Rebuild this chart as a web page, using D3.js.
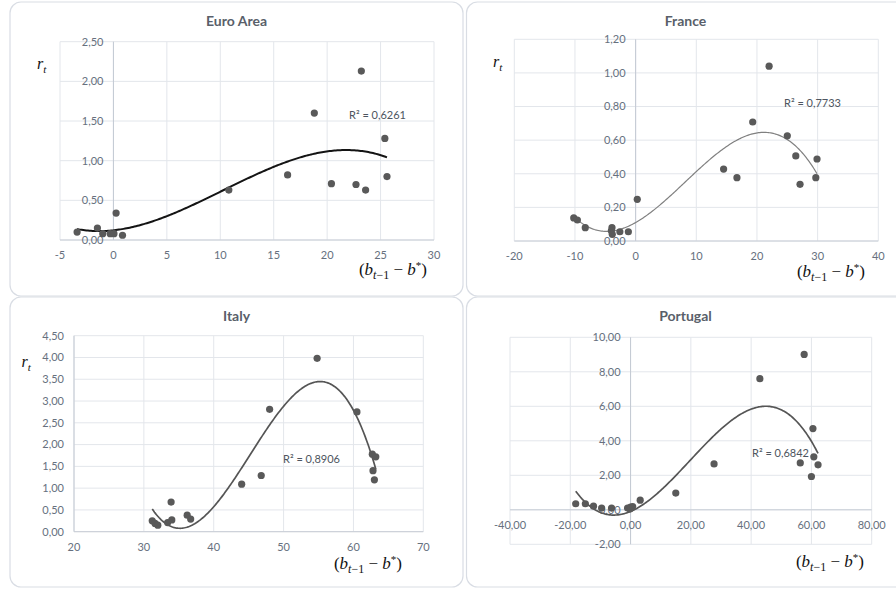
<!DOCTYPE html>
<html>
<head>
<meta charset="utf-8">
<script src="https://cdn.jsdelivr.net/npm/d3@7"></script>
<style>
  body { margin: 0; background: #fff; }
  svg { display: block; }
  .tick-label { font-family: Lato, "Open Sans", sans-serif; font-size: 11px; fill: #66707e; }
  .title { font-family: Lato, "Open Sans", sans-serif; font-size: 14px; font-weight: bold; fill: #595f6a; }
  .r2 { font-family: Lato, "Open Sans", sans-serif; font-size: 11px; fill: #4d5560; }
  .math { font-family: "Liberation Serif", "DejaVu Serif", serif; fill: #111; }
</style>
</head>
<body>
<div class="board"></div>
<script>
(function() {

  // Euro Area
  var euroX = [-3.4, -1.5, -1.0, -0.3, 0.05, 0.85, 0.25, 10.8, 16.3, 18.8, 20.4, 22.7, 23.2, 23.6, 25.4, 25.6];
  var euroY = [0.10, 0.15, 0.08, 0.08, 0.08, 0.06, 0.34, 0.63, 0.82, 1.60, 0.71, 0.70, 2.13, 0.63, 1.28, 0.80];
  var euroXTicks = [-5, 0, 5, 10, 15, 20, 25, 30];
  var euroYTicks = [0, 0.5, 1, 1.5, 2, 2.5];

  // France
  var franceX = [-10.2, -9.6, -8.3, -3.9, -4.0, -3.85, -2.6, -1.2, 0.27, 14.5, 16.7, 19.3, 22.0, 25.0, 26.4, 27.1, 29.7, 29.9];
  var franceY = [0.137, 0.125, 0.079, 0.079, 0.061, 0.04, 0.055, 0.055, 0.248, 0.428, 0.377, 0.708, 1.04, 0.626, 0.506, 0.337, 0.377, 0.488];
  var franceXTicks = [-20, -10, 0, 10, 20, 30, 40];
  var franceYTicks = [0, 0.2, 0.4, 0.6, 0.8, 1.0, 1.2];

  // Italy
  var italyX = [31.2, 31.6, 32.0, 33.4, 33.9, 34.0, 36.2, 36.7, 44.0, 46.8, 48.0, 54.8, 60.5, 62.7, 62.8, 63.0, 63.2];
  var italyY = [0.25, 0.19, 0.15, 0.21, 0.68, 0.27, 0.38, 0.29, 1.09, 1.29, 2.81, 3.98, 2.75, 1.78, 1.40, 1.19, 1.72];
  var italyXTicks = [20, 30, 40, 50, 60, 70];
  var italyYTicks = [0, 0.5, 1, 1.5, 2, 2.5, 3, 3.5, 4, 4.5];

  // Portugal
  var portugalX = [-18.2, -15, -12.3, -9.6, -6.3, -1.0, -0.2, 0.0, 0.7, 3.2, 15.0, 27.7, 42.9, 56.3, 57.6, 60.0, 60.5, 60.8, 62.2];
  var portugalY = [0.35, 0.35, 0.21, 0.10, 0.10, 0.10, 0.04, 0.16, 0.19, 0.56, 0.97, 2.66, 7.60, 2.72, 9.01, 1.93, 4.71, 3.07, 2.61];
  var portugalXTicks = [-40, -20, 0, 20, 40, 60, 80];
  var portugalYTicks = [-2, 0, 2, 4, 6, 8, 10];

  var r2Labels = ['R² = 0,6261', 'R² = 0,7733', 'R² = 0,8906', 'R² = 0,6842'];

  var locale = d3.formatLocale({ decimal: ',', thousands: '.', grouping: [3], currency: ['', '€'], minus: '-' });
  var fmtInt = locale.format('d');
  var fmt2 = locale.format('.2f');

  var panels = [
    { title: 'Euro Area', xs: euroX, ys: euroY, xTicks: euroXTicks, yTicks: euroYTicks, xFmt: fmtInt,
      card: [10, 2, 453, 294], plot: [60, 41.7, 434, 240], crossX: 0, r2: r2Labels[0], r2At: [349, 119],
      rt: [37, 69], xt: [427, 275], trend: { color: '#141414', width: 2 } },
    { title: 'France', xs: franceX, ys: franceY, xTicks: franceXTicks, yTicks: franceYTicks, xFmt: fmtInt,
      card: [466.5, 2, 440, 294], plot: [514.3, 39.3, 878.3, 241], crossX: 0, r2: r2Labels[1], r2At: [784, 107],
      rt: [493, 67], xt: [865, 277], trend: { color: '#808080', width: 1.2 } },
    { title: 'Italy', xs: italyX, ys: italyY, xTicks: italyXTicks, yTicks: italyYTicks, xFmt: fmtInt,
      card: [10, 297, 453, 290], plot: [74, 335.7, 423.3, 531.7], crossX: 20, r2: r2Labels[2], r2At: [283, 463],
      rt: [21.5, 367], xt: [402, 569], trend: { color: '#555555', width: 1.7 } },
    { title: 'Portugal', xs: portugalX, ys: portugalY, xTicks: portugalXTicks, yTicks: portugalYTicks, xFmt: fmt2,
      card: [466.5, 297, 440, 290], plot: [510, 337.3, 871.7, 544.3], crossX: 0, r2: r2Labels[3], r2At: [752, 457],
      rt: null, xt: [864, 567], trend: { color: '#555555', width: 1.7 } }
  ];

  // least squares cubic, like the spreadsheet's polynomial trend line
  function polyFit(xs, ys, deg) {
    var n = deg + 1, A = [], b = [];
    for (var i = 0; i < n; i++) {
      A.push([]);
      for (var j = 0; j < n; j++) A[i].push(d3.sum(xs, function(x) { return Math.pow(x, i + j); }));
      b.push(d3.sum(xs, function(x, k) { return ys[k] * Math.pow(x, i); }));
    }
    for (var c = 0; c < n; c++) {
      var p = c;
      for (var r = c + 1; r < n; r++) if (Math.abs(A[r][c]) > Math.abs(A[p][c])) p = r;
      var t = A[c]; A[c] = A[p]; A[p] = t;
      var tb = b[c]; b[c] = b[p]; b[p] = tb;
      for (var r2 = c + 1; r2 < n; r2++) {
        var f = A[r2][c] / A[c][c];
        for (var k = c; k < n; k++) A[r2][k] -= f * A[c][k];
        b[r2] -= f * b[c];
      }
    }
    var coef = new Array(n);
    for (var r3 = n - 1; r3 >= 0; r3--) {
      var s = b[r3];
      for (var k2 = r3 + 1; k2 < n; k2++) s -= A[r3][k2] * coef[k2];
      coef[r3] = s / A[r3][r3];
    }
    return function(x) { return d3.sum(coef, function(cf, i) { return cf * Math.pow(x, i); }); };
  }

  var board = d3.select('.board')
    .append('svg')
    .attr('width', 896)
    .attr('height', 589);

  panels.forEach(function(p) {
    var g = board.append('g');

    g.append('rect')
      .attr('x', p.card[0]).attr('y', p.card[1])
      .attr('width', p.card[2]).attr('height', p.card[3])
      .attr('rx', 11)
      .style('fill', '#fff')
      .style('stroke', '#d9dde4')
      .style('stroke-width', 1.2);

    var x = d3.scaleLinear()
      .domain(d3.extent(p.xTicks))
      .range([p.plot[0], p.plot[2]]);
    var y = d3.scaleLinear()
      .domain(d3.extent(p.yTicks))
      .range([p.plot[3], p.plot[1]]);

    g.selectAll('.vgrid')
      .data(p.xTicks)
      .enter()
      .append('line')
      .attr('x1', function(d) { return x(d); })
      .attr('x2', function(d) { return x(d); })
      .attr('y1', y.range()[0])
      .attr('y2', y.range()[1])
      .style('stroke', '#e3e6eb')
      .style('stroke-width', 1);

    g.selectAll('.hgrid')
      .data(p.yTicks)
      .enter()
      .append('line')
      .attr('x1', x.range()[0])
      .attr('x2', x.range()[1])
      .attr('y1', function(d) { return y(d); })
      .attr('y2', function(d) { return y(d); })
      .style('stroke', '#e3e6eb')
      .style('stroke-width', 1);

    // axes crossing lines
    g.append('line')
      .attr('x1', x(p.crossX)).attr('x2', x(p.crossX))
      .attr('y1', y.range()[0]).attr('y2', y.range()[1])
      .style('stroke', '#c3c9d3');
    g.append('line')
      .attr('x1', x.range()[0]).attr('x2', x.range()[1])
      .attr('y1', y(0)).attr('y2', y(0))
      .style('stroke', '#c8cdd6');

    g.selectAll('.ylab')
      .data(p.yTicks)
      .enter()
      .append('text')
      .attr('class', 'tick-label')
      .attr('x', x(p.crossX) - 10)
      .attr('y', function(d) { return y(d); })
      .attr('dy', '0.35em')
      .style('text-anchor', 'end')
      .text(function(d) { return fmt2(d); });

    g.selectAll('.xlab')
      .data(p.xTicks)
      .enter()
      .append('text')
      .attr('class', 'tick-label')
      .attr('x', function(d) { return x(d); })
      .attr('y', y(0) + 15)
      .attr('dy', '0.35em')
      .style('text-anchor', 'middle')
      .text(function(d) { return p.xFmt(d); });

    g.append('text')
      .attr('class', 'title')
      .attr('x', p.card[0] + p.card[2] / 2 - (p.card[0] > 400 ? 1 : 0))
      .attr('y', p.card[1] + 24)
      .style('text-anchor', 'middle')
      .text(p.title);

    var fit = polyFit(p.xs, p.ys, 3);
    var ext = d3.extent(p.xs);
    var curve = d3.range(0, 201).map(function(i) {
      var xv = ext[0] + (ext[1] - ext[0]) * i / 200;
      return [xv, fit(xv)];
    });
    g.append('path')
      .datum(curve)
      .attr('d', d3.line()
        .x(function(d) { return x(d[0]); })
        .y(function(d) { return y(d[1]); }))
      .style('fill', 'none')
      .style('stroke', p.trend.color)
      .style('stroke-width', p.trend.width);

    var pts = p.xs.map(function(v, i) { return { x: v, y: p.ys[i] }; });
    g.selectAll('circle')
      .data(pts)
      .enter()
      .append('circle')
      .attr('cx', function(d) { return x(d.x); })
      .attr('cy', function(d) { return y(d.y); })
      .attr('r', 3.6)
      .style('fill', '#595959');

    g.append('text')
      .attr('class', 'r2')
      .attr('x', p.r2At[0])
      .attr('y', p.r2At[1])
      .text(p.r2);

    if (p.rt) {
      var rt = g.append('text')
        .attr('class', 'math')
        .attr('x', p.rt[0])
        .attr('y', p.rt[1])
        .style('font-size', '16px')
        .style('font-style', 'italic');
      rt.append('tspan').text('r');
      rt.append('tspan').attr('dy', 4).style('font-size', '11px').text('t');
    }

    var xt = g.append('text')
      .attr('class', 'math')
      .attr('x', p.xt[0])
      .attr('y', p.xt[1])
      .style('font-size', '17px')
      .style('text-anchor', 'end');
    xt.append('tspan').text('(');
    xt.append('tspan').style('font-style', 'italic').text('b');
    xt.append('tspan').attr('dy', 4).style('font-size', '12px').style('font-style', 'italic').text('t');
    xt.append('tspan').style('font-size', '12px').text('−1');
    xt.append('tspan').attr('dy', -4).text(' − ');
    xt.append('tspan').style('font-style', 'italic').text('b');
    xt.append('tspan').attr('dy', -6).style('font-size', '11px').text('*');
    xt.append('tspan').attr('dy', 6).text(')');
  });

})();
</script>
</body>
</html>
